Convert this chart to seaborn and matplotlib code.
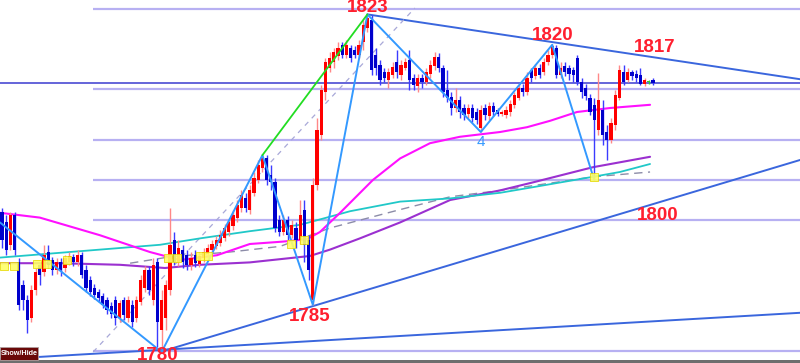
import matplotlib
matplotlib.use("Agg")
import matplotlib.pyplot as plt
from matplotlib.patches import Rectangle
import seaborn as sns
import pandas as pd
import numpy as np

# ---------------- data (prices) ----------------
opens = [1798.5, 1797.2, 1794.4, 1798.1, 1792.2, 1789.4, 1787.5, 1785.2, 1788.8, 1791.9,
         1791.0, 1793.5, 1792.5, 1791.2, 1792.2, 1791.5, 1792.2, 1792.9, 1792.2, 1793.1,
         1791.2, 1790.0, 1789.0, 1788.5, 1788.0, 1787.5, 1786.8, 1787.5, 1785.2, 1787.5,
         1785.2, 1786.9, 1785.2, 1787.2, 1789.0, 1791.2, 1787.5, 1792.2, 1783.8, 1785.2,
         1788.8, 1795.0, 1792.2, 1793.8, 1793.1, 1791.9, 1793.1, 1792.0, 1792.8, 1793.2,
         1793.8, 1794.2, 1794.6, 1795.2, 1796.0, 1796.8, 1797.8, 1799.0, 1800.2, 1798.8,
         1800.9, 1802.5, 1804.0, 1805.2, 1803.1, 1802.2, 1797.5, 1796.0, 1797.5, 1795.6,
         1796.5, 1795.0, 1798.8, 1795.0, 1787.5, 1801.9, 1808.1, 1813.5, 1816.5, 1817.2,
         1818.0, 1819.4, 1818.1, 1819.0, 1818.8, 1818.1, 1819.8, 1821.5, 1822.5, 1818.1,
         1816.9, 1816.0, 1815.0, 1815.6, 1817.2, 1815.6, 1816.5, 1817.5, 1815.2, 1814.2,
         1815.2, 1814.8, 1815.8, 1816.8, 1817.9, 1816.5, 1813.8, 1812.9, 1811.5, 1812.5,
         1811.5, 1810.8, 1811.5, 1811.0, 1809.0, 1811.5, 1810.5, 1811.8, 1811.2, 1810.8,
         1810.6, 1811.0, 1811.9, 1812.8, 1814.0, 1813.5, 1816.2, 1815.5, 1816.5, 1816.0,
         1817.2, 1818.1, 1819.0, 1815.6, 1816.8, 1816.5, 1816.2, 1817.8, 1814.8, 1814.0,
         1812.8, 1811.9, 1808.8, 1811.2, 1808.5, 1807.5, 1809.4, 1812.8, 1816.0, 1815.0,
         1816.0, 1815.8, 1815.6, 1814.5, 1814.8, 1815.0]
closes = [1795.0, 1793.8, 1798.1, 1793.8, 1786.9, 1787.5, 1785.0, 1788.8, 1791.0, 1790.6,
          1793.1, 1791.9, 1791.2, 1792.2, 1791.2, 1792.8, 1793.0, 1792.2, 1793.1, 1790.6,
          1789.0, 1788.5, 1788.1, 1787.8, 1786.9, 1786.2, 1785.8, 1785.2, 1787.1, 1785.6,
          1787.5, 1784.8, 1787.5, 1790.0, 1791.2, 1788.8, 1791.9, 1784.8, 1787.5, 1789.4,
          1794.4, 1792.2, 1794.0, 1792.2, 1791.9, 1792.8, 1792.1, 1793.0, 1793.5, 1794.0,
          1794.5, 1795.0, 1795.6, 1796.5, 1797.2, 1798.1, 1799.4, 1800.6, 1799.0, 1801.2,
          1802.8, 1804.4, 1805.2, 1802.5, 1802.2, 1796.5, 1796.0, 1797.5, 1795.6, 1796.9,
          1795.0, 1798.1, 1794.4, 1791.2, 1801.9, 1808.8, 1813.8, 1817.2, 1817.8, 1818.5,
          1819.0, 1818.1, 1819.4, 1817.8, 1818.1, 1819.4, 1821.9, 1822.8, 1816.2, 1816.5,
          1815.0, 1815.2, 1816.0, 1816.6, 1816.0, 1816.9, 1817.2, 1815.0, 1814.4, 1815.2,
          1814.8, 1816.0, 1816.9, 1817.9, 1816.5, 1813.5, 1812.8, 1811.5, 1812.5, 1811.0,
          1810.6, 1811.5, 1810.2, 1810.0, 1811.2, 1810.6, 1811.8, 1811.0, 1810.8, 1811.0,
          1811.2, 1812.0, 1813.1, 1814.0, 1813.5, 1815.2, 1815.2, 1816.5, 1815.6, 1817.2,
          1818.1, 1819.2, 1815.6, 1816.5, 1816.0, 1815.8, 1815.6, 1814.8, 1813.5, 1813.0,
          1811.0, 1810.0, 1812.5, 1808.1, 1807.5, 1809.6, 1813.1, 1816.2, 1814.8, 1816.0,
          1815.5, 1815.2, 1814.5, 1815.0, 1814.8, 1814.6]
highs = [1799.0, 1798.1, 1798.5, 1798.5, 1792.8, 1790.0, 1788.1, 1789.4, 1791.5, 1792.2,
         1794.4, 1794.4, 1792.9, 1792.8, 1792.8, 1793.1, 1793.5, 1793.2, 1793.8, 1793.5,
         1791.9, 1790.5, 1789.5, 1788.9, 1788.4, 1787.9, 1787.2, 1788.0, 1787.5, 1787.9,
         1788.0, 1787.5, 1788.0, 1790.6, 1791.8, 1791.8, 1792.8, 1792.8, 1788.8, 1790.0,
         1799.0, 1796.0, 1795.0, 1794.4, 1793.8, 1793.5, 1793.8, 1793.5, 1794.0, 1794.5,
         1795.0, 1795.5, 1796.2, 1797.0, 1797.8, 1798.8, 1800.0, 1801.2, 1800.9, 1801.9,
         1803.5, 1805.0, 1805.6, 1805.6, 1804.4, 1802.8, 1798.1, 1798.1, 1798.0, 1797.5,
         1797.2, 1800.0, 1800.0, 1795.6, 1802.8, 1810.2, 1814.4, 1817.8, 1818.5, 1819.0,
         1819.8, 1819.8, 1820.0, 1819.4, 1819.2, 1820.0, 1822.5, 1823.4, 1823.1, 1819.0,
         1817.5, 1816.5, 1816.5, 1817.2, 1818.8, 1817.5, 1817.8, 1818.8, 1815.8, 1815.8,
         1815.8, 1816.5, 1817.5, 1818.5, 1818.4, 1816.9, 1816.2, 1813.5, 1814.0, 1813.0,
         1812.0, 1812.0, 1812.0, 1811.5, 1811.9, 1812.0, 1812.2, 1812.2, 1811.5, 1811.2,
         1811.8, 1812.5, 1813.5, 1814.5, 1814.5, 1816.0, 1816.5, 1817.0, 1817.0, 1817.8,
         1818.8, 1819.5, 1819.4, 1817.2, 1817.2, 1816.9, 1816.6, 1818.1, 1815.2, 1814.5,
         1813.2, 1812.8, 1815.9, 1812.5, 1809.4, 1810.2, 1813.8, 1816.9, 1816.9, 1816.5,
         1816.2, 1816.2, 1816.5, 1815.2, 1815.0, 1815.2]
lows = [1794.0, 1793.1, 1793.8, 1793.1, 1786.2, 1786.2, 1783.4, 1784.8, 1788.1, 1789.4,
        1790.5, 1791.5, 1790.6, 1790.8, 1790.5, 1791.0, 1791.9, 1791.8, 1791.8, 1790.2,
        1788.5, 1788.0, 1787.6, 1787.2, 1786.5, 1785.8, 1785.2, 1784.4, 1784.8, 1785.0,
        1784.8, 1784.1, 1784.8, 1786.9, 1788.5, 1788.1, 1786.9, 1781.6, 1781.0, 1783.8,
        1788.1, 1791.9, 1791.8, 1791.5, 1791.2, 1791.2, 1791.6, 1791.6, 1792.2, 1792.8,
        1793.4, 1793.9, 1794.2, 1794.9, 1795.5, 1796.2, 1797.2, 1798.5, 1798.5, 1798.2,
        1800.5, 1802.1, 1803.5, 1801.9, 1801.2, 1796.0, 1795.5, 1795.6, 1795.0, 1795.2,
        1794.0, 1794.5, 1792.2, 1790.0, 1786.9, 1801.2, 1807.5, 1812.5, 1816.0, 1816.5,
        1817.5, 1817.8, 1817.8, 1817.2, 1817.8, 1817.8, 1818.8, 1821.0, 1815.6, 1815.6,
        1814.4, 1814.8, 1814.0, 1815.2, 1815.2, 1815.0, 1816.2, 1813.8, 1813.8, 1813.5,
        1814.0, 1814.4, 1815.2, 1816.2, 1816.0, 1812.9, 1812.2, 1810.6, 1811.0, 1810.2,
        1810.0, 1810.2, 1809.8, 1809.5, 1808.5, 1810.0, 1810.0, 1810.5, 1810.5, 1810.5,
        1810.2, 1810.5, 1811.5, 1812.5, 1813.0, 1813.1, 1814.8, 1815.1, 1815.2, 1815.6,
        1816.9, 1817.8, 1815.2, 1815.2, 1815.5, 1815.0, 1814.8, 1814.4, 1812.8, 1812.5,
        1810.6, 1802.5, 1808.1, 1806.9, 1805.0, 1807.1, 1808.8, 1812.5, 1814.4, 1814.8,
        1815.0, 1814.8, 1814.4, 1814.2, 1814.5, 1814.4]

# moving averages (bar index, price)
ma_fast_x = [-0.5, 9, 23.3, 35.2, 42.4, 51.2, 59, 66.9, 72.6, 75.7, 80.5, 88.3, 94.8,
             101.9, 109, 118.6, 125, 130.5, 136.9, 144.8, 154.3]
ma_fast_y = [1798.4, 1797.8, 1795.6, 1793.5, 1792.5, 1793.1, 1794.5, 1794.8, 1795.1, 1796.0,
             1798.4, 1802.5, 1805.2, 1807.1, 1807.9, 1808.5, 1809.1, 1809.9, 1811.0, 1811.5, 1811.9]
ma_mid_x = [-0.5, 13.8, 28.1, 37.6, 47.1, 59, 71, 82.9, 94.8, 106.7, 118.6, 126.4, 140.7, 147.1, 154.3]
ma_mid_y = [1792.8, 1793.4, 1794.0, 1794.4, 1795.2, 1796.1, 1796.9, 1798.6, 1799.8, 1800.2,
            1800.9, 1801.6, 1802.9, 1803.5, 1804.5]
ma_slow_x = [-0.5, 13.8, 28.1, 38.8, 47.1, 59, 73.3, 78.1, 85.2, 94.8, 106.7, 118.6, 126.4, 140.7, 154.3]
ma_slow_y = [1792.1, 1792.1, 1791.9, 1791.5, 1791.9, 1792.2, 1793.0, 1793.8, 1795.2, 1797.2,
             1800.0, 1801.2, 1802.2, 1804.1, 1805.4]
ma_dash_x = [30.5, 40, 54.3, 66.2, 78.1, 94.8, 106.7, 118.6, 130.5, 140.7, 154.3]
ma_dash_y = [1792.1, 1792.9, 1793.5, 1794.2, 1796.5, 1798.8, 1800.4, 1801.2, 1802.1, 1802.9, 1803.5]

# zigzag pivots
zz_x = [-0.5, 38, 62, 74, 87, 114, 131, 141]
zz_y = [1797.2, 1781.0, 1805.6, 1786.9, 1823.2, 1808.5, 1819.4, 1802.5]
green_x = [62, 87]
green_y = [1805.6, 1823.2]
resist_x = [87, 190]
resist_y = [1823.2, 1815.1]
support_x = [37.6, 190]
support_y = [1781.0, 1805.0]
base_x = [-0.5, 190]
base_y = [1780.1, 1785.9]
diag_x = [21.7, 98.3]
diag_y = [1781.0, 1824.0]

levels = [1823.9, 1813.9, 1807.5, 1802.5, 1797.5, 1781.1]
level_start = 21.7
current_price = 1814.6

sig_x = [0.5, 2.9, 8.3, 10.7, 15.5, 39.5, 41.7, 47.1, 49, 68.8, 71.9, 141]
sig_y = [1791.8, 1791.8, 1792.0, 1792.0, 1792.5, 1792.8, 1792.8, 1793.0, 1793.0, 1794.5, 1795.0, 1802.9]

labels = ["1823", "1820", "1817", "1800", "1785", "1780"]
label_x = [87.1, 131, 155.5, 156, 73.3, 37.1]
label_y = [1824.1, 1820.6, 1819.1, 1798.1, 1785.4, 1780.5]

# ---------------- drawing ----------------
sns.set_theme(style="white")
plt.rcParams['font.family'] = ['Liberation Sans', 'DejaVu Sans']

W, H = 800, 363
fig = plt.figure(figsize=(W / 100, H / 100), dpi=100)
fig.patch.set_facecolor("white")
ax = fig.add_axes([0, 3 / H, 1, 360 / H])
ax.set_facecolor("white")
x0 = -2 / 4.2
ax.set_xlim(x0, x0 + 800 / 4.2)
ax.set_ylim(1780, 1825)
for s in ax.spines.values():
    s.set_visible(False)
ax.set_xticks([])
ax.set_yticks([])

# horizontal levels
ax.hlines(levels, level_start, 200, colors="#b7b0f2", linewidth=1.6, zorder=1)
ax.axhline(current_price, color="#3b3bd0", linewidth=1.1, zorder=1)

# trend lines
ax.plot(base_x, base_y, color="#3a66dd", linewidth=1.4, zorder=2)
ax.plot(support_x, support_y, color="#3a66dd", linewidth=1.4, zorder=2)
ax.plot(resist_x, resist_y, color="#3a66dd", linewidth=1.4, zorder=2)
ax.plot(diag_x, diag_y, color="#a8a8d8", linewidth=0.9, linestyle=(0, (4, 4)), zorder=2)

# moving averages via seaborn
sns.lineplot(x=ma_dash_x, y=ma_dash_y, ax=ax, color="#8c8ca8", linewidth=1.0,
             linestyle=(0, (6, 4)), sort=False, zorder=3)
sns.lineplot(x=ma_slow_x, y=ma_slow_y, ax=ax, color="#9b30d0", linewidth=1.5, sort=False, zorder=3)
sns.lineplot(x=ma_mid_x, y=ma_mid_y, ax=ax, color="#20c8c8", linewidth=1.3, sort=False, zorder=3)
sns.lineplot(x=ma_fast_x, y=ma_fast_y, ax=ax, color="#ff10ff", linewidth=1.5, sort=False, zorder=3)

# candles
df = pd.DataFrame({"o": opens, "c": closes, "h": highs, "l": lows})
df["i"] = np.arange(len(df))
up = df[df.c > df.o]
dn = df[df.c < df.o]
eq = df[df.c == df.o]
ax.vlines(up.i, up.l, up.h, colors="#ff8888", linewidth=1.0, zorder=4)
ax.vlines(dn.i, dn.l, dn.h, colors="#3b3bff", linewidth=1.0, zorder=4)
ax.vlines(eq.i, eq.l, eq.h, colors="#33cc33", linewidth=1.0, zorder=4)
ax.bar(up.i, up.c - up.o, bottom=up.o, width=0.72, color="#ff0000", linewidth=0, zorder=5)
ax.bar(dn.i, dn.o - dn.c, bottom=dn.c, width=0.72, color="#0000cc", linewidth=0, zorder=5)
ax.bar(eq.i, 0.15, bottom=eq.o - 0.075, width=0.72, color="#33cc33", linewidth=0, zorder=5)

# zigzag and green leg
ax.plot(zz_x, zz_y, color="#3399ff", linewidth=1.4, zorder=6)
ax.plot(green_x, green_y, color="#22dd22", linewidth=1.3, zorder=6)

# signal boxes
ax.scatter(sig_x, sig_y, marker="s", s=40, color="#ffff66", edgecolor="#e6d800",
           linewidth=0.6, zorder=7, alpha=0.9)

# labels
for t, lx, ly in zip(labels, label_x, label_y):
    ax.text(lx, ly, t, color="#ff1f2f", fontsize=13.5, fontweight="bold",
            ha="center", va="center", zorder=8)
ax.text(114, 1807.2, "4", color="#3399ff", fontsize=11, ha="center", va="center", zorder=8)

# bottom border and Show/Hide button
fig.patches.append(Rectangle((0, 0), 1, 3 / H, transform=fig.transFigure,
                             facecolor="#6e6e6e", edgecolor="none", zorder=10))
btn = Rectangle((0, 3 / H), 38 / W, 13 / H, transform=fig.transFigure,
                facecolor="#6a0808", edgecolor="#b0a0a0", linewidth=0.6, zorder=10)
fig.patches.append(btn)
fig.text(19 / W, 9.5 / H, "Show/Hide", color="white", fontsize=5.2, fontweight="bold",
         ha="center", va="center", zorder=11)

fig.savefig("out.png", dpi=100)
